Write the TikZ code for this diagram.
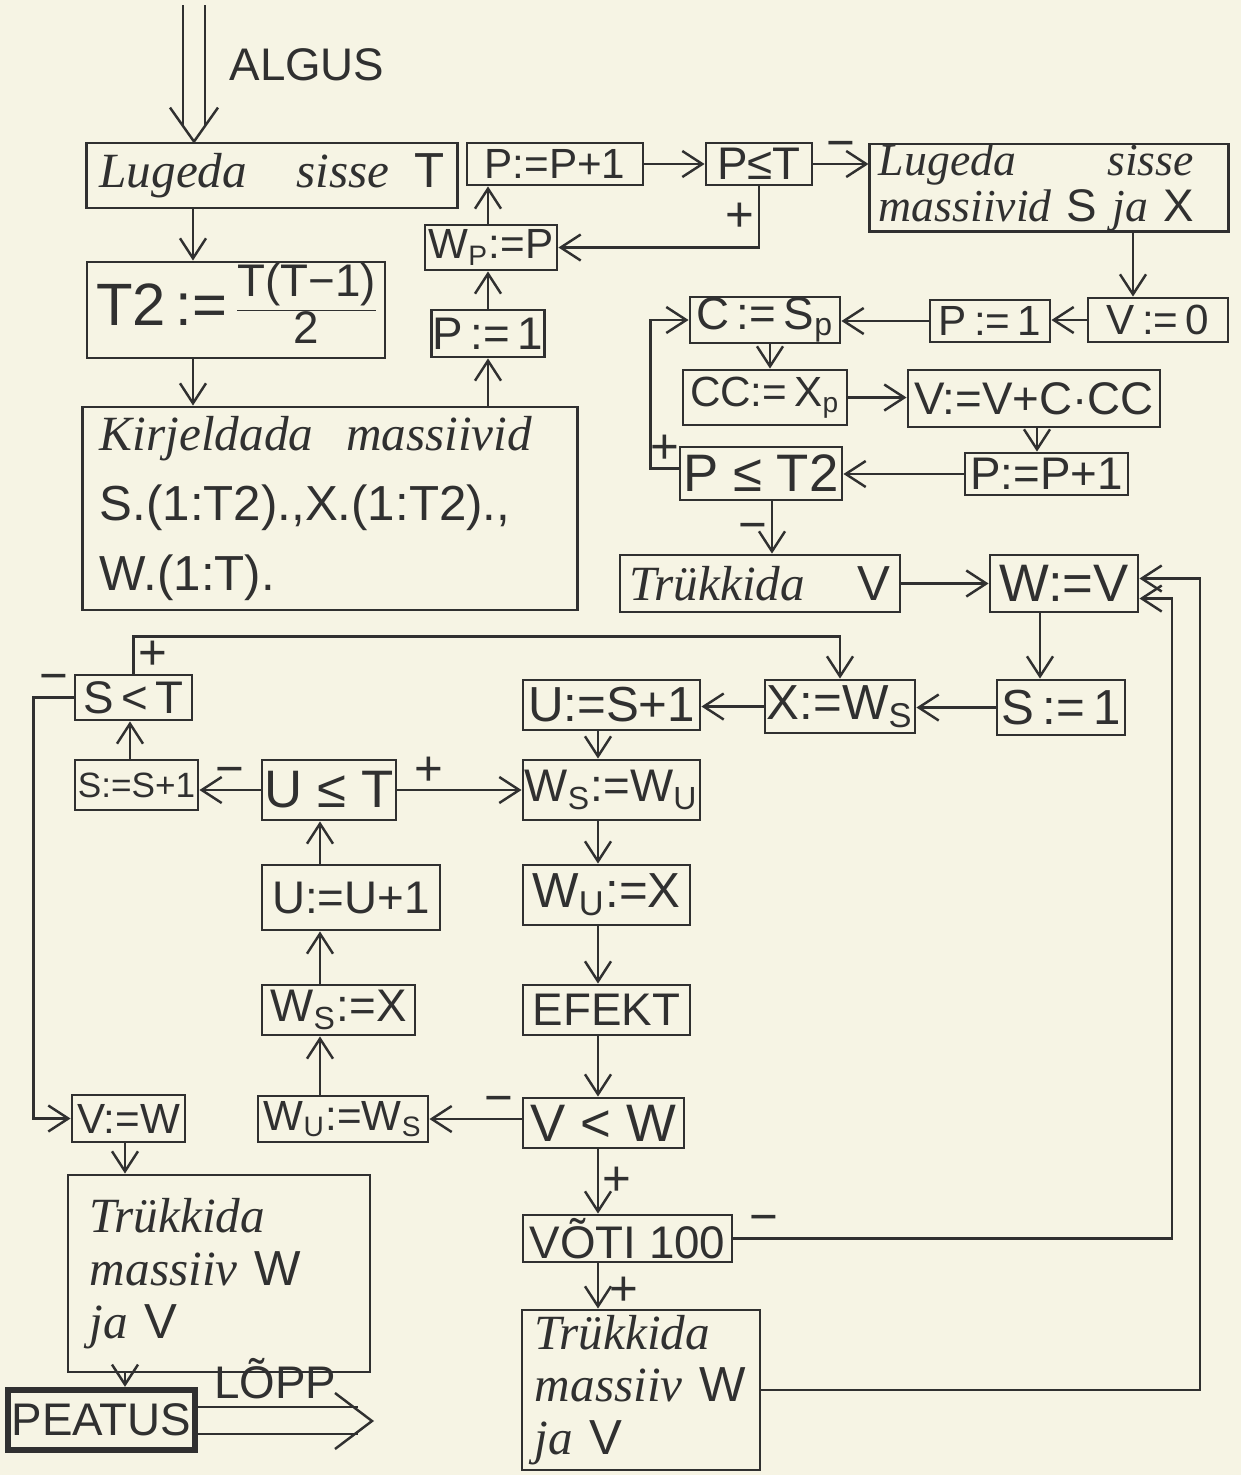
\documentclass[tikz,border=0pt]{standalone}
\usepackage{fontspec}
\setmainfont{Liberation Sans}
\newfontfamily\kasifont{Liberation Serif}
\newcommand{\kasi}{\kasifont\itshape}
\usetikzlibrary{arrows.meta}
\definecolor{paber}{RGB}{246,244,228}
\definecolor{tint}{RGB}{48,48,48}

\begin{document}
\begin{tikzpicture}[x=0.01cm,y=-0.01cm,
  every node/.style={font=\fontsize{12}{14}\selectfont, text=tint},
  blokk/.style 2 args={draw=tint, line width=0.8pt, inner sep=0pt, minimum width=#1cm, minimum height=#2cm},
  joon/.style={draw=tint, line width=0.7pt},
  pil/.style={joon, -{Straight Barb[length=2mm,width=2.6mm]}},
  marg/.style={font=\fontsize{14}{14}\selectfont, inner sep=1pt}]
\useasboundingbox (0,0) rectangle (1241,1475);
\fill[paber] (0,0) rectangle (1241,1475);

\node[blokk={3.70}{0.65}, text width=3.45cm, align=left, font=\fontsize{14}{16}\selectfont] (lug) at (272,175.5) {{\kasi Lugeda\quad sisse}\hfill T};
\node[blokk={2.98}{0.96}, font=\fontsize{17}{19}\selectfont] (t2) at (236,310) {T2\,:=\,$\vcenter{\hbox{\fontsize{13}{13}\selectfont\renewcommand{\arraystretch}{0.95}\begin{tabular}{@{}c@{}}T(T−1)\\\hline 2\end{tabular}}}$};
\node[blokk={4.94}{2.03}, text width=4.6cm, align=left, font=\fontsize{14}{20}\selectfont] (kirj) at (330,508.5) {{\kasi Kirjeldada\ \ massiivid}\\ S.(1:T2).,X.(1:T2).,\\ W.(1:T).};
\node[blokk={1.76}{0.42}] (pp1) at (555,164) {P:=P+1};
\node[blokk={1.06}{0.42}, font=\fontsize{13}{15}\selectfont] (ple) at (759,164) {P≤T};
\node[blokk={3.58}{0.85}, text width=3.4cm, align=left, font={\fontsize{13}{13}\selectfont\kasi}] (lugsx) at (1049,187.5) {Lugeda\qquad sisse\\ massiivid {\normalfont S} ja {\normalfont X}};
\node[blokk={1.32}{0.45}] (wp) at (491,247.5) {W\textsubscript{P}:=P};
\node[blokk={1.13}{0.47}, font=\fontsize{13}{15}\selectfont] (p1) at (488,333.5) {P\,:=\,1};
\node[blokk={1.40}{0.44}] (v0) at (1158,320) {V\,:=\,0};
\node[blokk={1.20}{0.42}] (p1b) at (990,321) {P\,:=\,1};
\node[blokk={1.50}{0.46}, font=\fontsize{13}{15}\selectfont] (csp) at (765,320) {C\,:=\,S\textsubscript{p}};
\node[blokk={1.64}{0.55}] (ccx) at (765,397.5) {CC:=\,X\textsubscript{p}};
\node[blokk={2.52}{0.57}, font=\fontsize{13}{15}\selectfont] (vv) at (1034,398.5) {V:=V+C·CC};
\node[blokk={1.63}{0.42}, font=\fontsize{13}{15}\selectfont] (pp1b) at (1046.5,474) {P:=P+1};
\node[blokk={1.62}{0.53}, font=\fontsize{15}{17}\selectfont] (plt2) at (761,473.5) {P ≤ T2};
\node[blokk={2.80}{0.57}, text width=2.6cm, align=left, font=\fontsize{14}{16}\selectfont] (trv) at (760,583.5) {{\kasi Trükkida}\hfill V};
\node[blokk={1.48}{0.57}, font=\fontsize{15}{17}\selectfont] (wv) at (1064,583.5) {W:=V};
\node[blokk={1.28}{0.55}, font=\fontsize{14}{16}\selectfont] (s1) at (1061,707.5) {S\,:=\,1};
\node[blokk={1.50}{0.53}, font=\fontsize{14}{16}\selectfont] (xws) at (840,706.5) {X:=W\textsubscript{S}};
\node[blokk={1.77}{0.50}, font=\fontsize{14}{16}\selectfont] (us1) at (611.5,705) {U:=S+1};
\node[blokk={1.17}{0.45}, font=\fontsize{13}{15}\selectfont] (slt) at (133.5,697.5) {S\,<\,T};
\node[blokk={1.23}{0.50}, font=\fontsize{10}{12}\selectfont] (ss1) at (136.5,785) {S:=S+1};
\node[blokk={1.34}{0.60}, font=\fontsize{15}{17}\selectfont] (ult) at (329,790) {U ≤ T};
\node[blokk={1.77}{0.60}, font=\fontsize{13}{15}\selectfont] (wswu) at (611.5,790) {W\textsubscript{S}:=W\textsubscript{U}};
\node[blokk={1.78}{0.65}, font=\fontsize{13}{15}\selectfont] (uu1) at (351,897.5) {U:=U+1};
\node[blokk={1.67}{0.60}, font=\fontsize{14}{16}\selectfont] (wux) at (606.5,895) {W\textsubscript{U}:=X};
\node[blokk={1.53}{0.50}, font=\fontsize{13}{15}\selectfont] (wsx) at (338.5,1010) {W\textsubscript{S}:=X};
\node[blokk={1.67}{0.50}, font=\fontsize{13}{15}\selectfont] (efekt) at (606.5,1010) {EFEKT};
\node[blokk={1.13}{0.47}] (vw) at (128.5,1118.5) {V:=W};
\node[blokk={1.70}{0.46}] (wuws) at (343,1119) {W\textsubscript{U}:=W\textsubscript{S}};
\node[blokk={1.61}{0.50}, font=\fontsize{15}{17}\selectfont] (vltw) at (603.5,1123) {V < W};
\node[blokk={3.02}{1.97}, text width=2.58cm, align=left, font=\fontsize{14}{15}\selectfont] (trl) at (219,1273.5) {{\kasi Trükkida}\\{\kasi massiiv} W\\{\kasi ja} V};
\node[blokk={2.09}{0.47}, font=\fontsize{13}{15}\selectfont] (voti) at (627.5,1238.5) {VÕTI 100};
\node[blokk={2.38}{1.60}, text width=2.12cm, align=left, font=\fontsize{14}{15}\selectfont] (trr) at (641,1390) {{\kasi Trükkida}\\{\kasi massiiv} W\\{\kasi ja} V};
\node[blokk={1.87}{0.60}, line width=1.8pt, font=\fontsize{13}{15}\selectfont] (peatus) at (101.5,1420) {PEATUS};

\node[font=\fontsize{13}{15}\selectfont] (algustekst) at (307,65) {ALGUS};
\node[font=\fontsize{13}{15}\selectfont, anchor=south, inner sep=1pt] (lopptekst) at (275,1403) {LÕPP};

\coordinate (algus) at (194,5);
\draw[joon] ([xshift=-0.11cm]algus) -- ++(0,122);
\draw[joon] ([xshift=0.11cm]algus) -- ++(0,122);
\draw[joon] (lug.north -| algus) ++(-24,-34) -- (lug.north -| algus) -- ++(24,-34);
\coordinate (lopp) at (372,1421);
\draw[joon] ([yshift=0.13cm]peatus.east) -- ++(160,0);
\draw[joon] ([yshift=-0.14cm]peatus.east) -- ++(160,0);
\draw[joon] (lopp) ++(-37,-28) -- (lopp) -- ++(-37,28);

\draw[pil] (lug.south -| 193,0) -- (t2.north -| 193,0);
\draw[pil] (t2.south -| 193,0) -- (kirj.north -| 193,0);
\draw[pil] (kirj.north -| p1.south) -- (p1.south);
\draw[pil] (p1.north) -- (wp.south -| p1.north);
\draw[pil] (wp.north -| p1.north) -- (pp1.south -| p1.north);
\draw[pil] (pp1.east) -- (ple.west);
\draw[pil] (ple.east) -- node[marg, above] {−} (lugsx.west |- ple.east);
\draw[pil] (ple.south) -- node[marg, left] {+} (ple.south |- wp.east) -- (wp.east);
\draw[pil] (lugsx.south -| 1133,0) -- (v0.north -| 1133,0);
\draw[pil] (v0.west) -- (p1b.east |- v0.west);
\draw[pil] (p1b.west) -- (csp.east |- p1b.west);
\draw[pil] (csp.south -| 770,0) -- (ccx.north -| 770,0);
\draw[pil] (ccx.east) -- (vv.west |- ccx.east);
\draw[pil] (vv.south -| 1037,0) -- (pp1b.north -| 1037,0);
\draw[pil] (pp1b.west) -- (plt2.east |- pp1b.west);
\draw[pil] ([yshift=0.05cm]plt2.west) -- node[marg, above] {+} ++(-28,0) |- (csp.west);
\draw[pil] (plt2.south -| 772,0) -- node[marg, pos=0.6, left] {−} (trv.north -| 772,0);
\draw[pil] (trv.east) -- (wv.west |- trv.east);
\draw[pil] (wv.south -| 1040,0) -- (s1.north -| 1040,0);
\draw[pil] (s1.west) -- (xws.east |- s1.west);
\draw[pil] (xws.west) -- (us1.east |- xws.west);
\draw[pil] (us1.south -| 598,0) -- (wswu.north -| 598,0);
\draw[pil] (wswu.south -| 598,0) -- (wux.north -| 598,0);
\draw[pil] (wux.south -| 598,0) -- (efekt.north -| 598,0);
\draw[pil] (efekt.south -| 598,0) -- (vltw.north -| 598,0);
\draw[pil] (vltw.west |- wuws.east) -- node[marg, pos=0.25, above] {−} (wuws.east);
\draw[pil] (wuws.north -| 320,0) -- (wsx.south -| 320,0);
\draw[pil] (wsx.north -| 320,0) -- (uu1.south -| 320,0);
\draw[pil] (uu1.north -| 320,0) -- (ult.south -| 320,0);
\draw[pil] (ult.east) -- node[marg, pos=0.25, above] {+} (wswu.west);
\draw[pil] (ult.west) -- node[marg, above] {−} (ss1.east |- ult.west);
\draw[pil] (ss1.north -| 130,0) -- (slt.south -| 130,0);
\draw[pil] (slt.north) -- node[marg, right] {+} ++(0,-37) -| (xws.north);
\draw[pil] (slt.west) -- node[marg, above] {−} ++(-40,0) |- (vw.west);
\draw[pil] (vw.south -| 125,0) -- (trl.north -| 125,0);
\draw[pil] (trl.south -| 125,0) -- (peatus.north -| 125,0);
\draw[pil] (vltw.south -| 598,0) -- node[marg, right] {+} (voti.north -| 598,0);
\draw[pil] (voti.south -| 598,0) -- node[marg, pos=0.62, right, inner sep=0pt, xshift=3pt] {+} (trr.north -| 598,0);
\draw[pil] (voti.east) -- node[marg, pos=0.07, above] {−} (voti.east -| 1172,0) |- ([yshift=-0.15cm]wv.east);
\draw[pil] (trr.east) -- (trr.east -| 1200,0) |- ([yshift=0.05cm]wv.east);
\end{tikzpicture}
\end{document}
